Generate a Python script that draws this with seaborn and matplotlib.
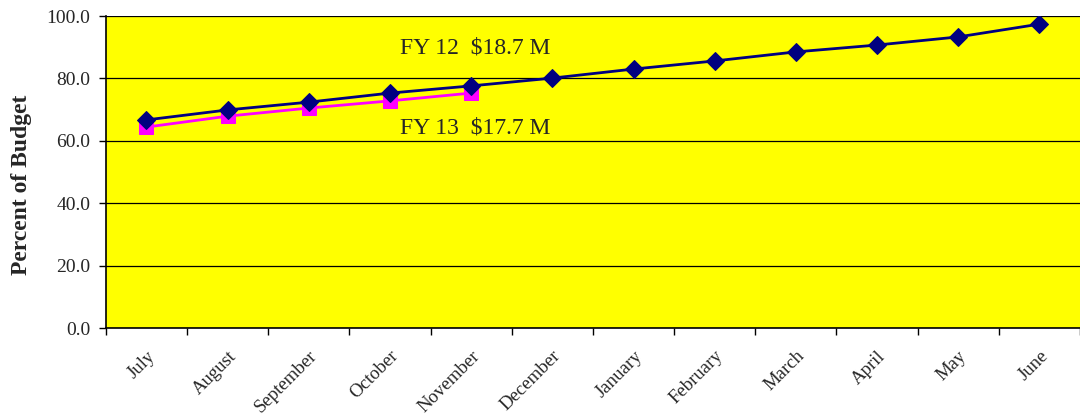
import numpy as np
import pandas as pd
import seaborn as sns
from matplotlib import pyplot
from matplotlib.ticker import FixedLocator, FormatStrFormatter

months = ['July', 'August', 'September', 'October', 'November', 'December',
          'January', 'February', 'March', 'April', 'May', 'June']
fy12 = [66.7, 69.9, 72.4, 75.3, 77.6, 80.1, 83.0, 85.6, 88.5, 90.7, 93.3, 97.4]
fy13 = [64.4, 67.9, 70.5, 72.8, 75.3]
label12 = 'FY 12  $18.7 M'
label13 = 'FY 13  $17.7 M'

sns.set_style("white")
pyplot.rcParams['font.family'] = ['Liberation Serif', 'DejaVu Serif']

df12 = pd.DataFrame({'pos': range(len(fy12)), 'pct': fy12})
df13 = pd.DataFrame({'pos': range(len(fy13)), 'pct': fy13})

fig = pyplot.figure(figsize=(10.8, 4.16), dpi=100)
ax = fig.add_axes([0.098, 0.2115, 0.902, 0.75])
ax.set_facecolor('#FFFF00')

sns.lineplot(x='pos', y='pct', data=df12, ax=ax, color='#000080', lw=2,
             marker='D', markersize=9, markeredgecolor='#000080', zorder=4)
sns.lineplot(x='pos', y='pct', data=df13, ax=ax, color='#FF00FF', lw=2,
             marker='s', markersize=9.5, markeredgecolor='#FF00FF', zorder=3)

ax.set_xlim(-0.5, len(months) - 0.5)
ax.set_ylim(0, 100)
ax.set_yticks(np.arange(0, 101, 20))
ax.yaxis.set_major_formatter(FormatStrFormatter('%.1f'))
ax.grid(axis='y', color='black', lw=0.9)
ax.set_axisbelow(True)

ax.set_xticks(range(len(months)))
ax.set_xticklabels(months, rotation=45, ha='right', rotation_mode='anchor',
                   fontsize=13.5)
ax.xaxis.set_minor_locator(FixedLocator(np.arange(-0.5, len(months), 1)))
ax.tick_params(axis='x', which='major', length=0, pad=14)
ax.tick_params(axis='x', which='minor', length=5, width=1, color='black',
               direction='out', bottom=True)
ax.tick_params(axis='y', length=5, width=1, color='black', direction='out',
               left=True, labelsize=14, pad=6)

for s in ['top', 'right']:
    ax.spines[s].set_visible(False)
for s in ['left', 'bottom']:
    ax.spines[s].set_color('black')
    ax.spines[s].set_linewidth(1.2)

ax.set_xlabel('')
ax.set_ylabel('Percent of Budget', fontsize=17, fontweight='bold')
ax.yaxis.set_label_coords(-0.0755, 0.46)

ax.text(4.05, 89.8, label12, fontsize=17, ha='center', va='center')
ax.text(4.05, 64.0, label13, fontsize=17, ha='center', va='center')

fig.savefig('out.png', dpi=100)
